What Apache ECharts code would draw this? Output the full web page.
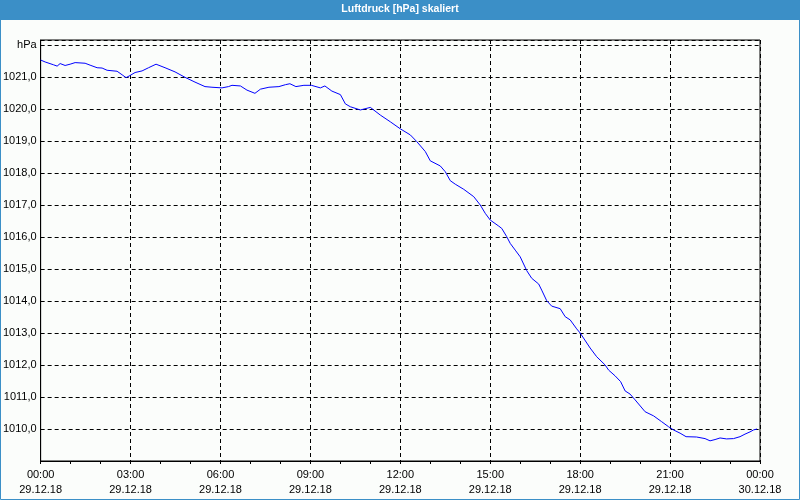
<!DOCTYPE html>
<html>
<head>
<meta charset="utf-8">
<script src="https://cdn.jsdelivr.net/npm/echarts@6/dist/echarts.min.js"></script>
<style>
html,body{margin:0;padding:0;background:#fbfdfb;}
#chart{width:800px;height:500px;}
</style>
</head>
<body>
<div id="chart"></div>
<script>
// Minutes after 29.12.18 00:00
var minutes = [0,9,26,33,39,49,59,69,89,99,113,123,133,153,163,171,177,189,203,216,231,249,269,289,309,329,343,363,376,383,400,413,429,440,457,477,490,499,511,527,542,560,569,583,
600,610,620,640,660,680,700,720,740,753,770,780,800,810,820,830,847,867,880,890,900,917,923,933,940,950,960,973,983,997,1003,1013,1023,1040,1050,1060,1073,1080,1100,1113,1130,1137,1150,1161,1170,1180,1190,1210,1227,1243,1257,1267,1280,1292,1313,1330,1340,1350,1360,1373,1387,1400,1410,1420,1427,1434];
// Luftdruck hPa
var pressure = [1021.53,1021.47,1021.38,1021.34,1021.42,1021.36,1021.40,1021.45,1021.43,1021.37,1021.29,1021.28,1021.21,1021.18,1021.07,1020.98,1021.03,1021.14,1021.19,1021.29,1021.40,1021.29,1021.16,1020.99,1020.84,1020.70,1020.68,1020.66,1020.70,1020.74,1020.72,1020.59,1020.49,1020.62,1020.68,1020.70,1020.76,1020.79,1020.70,1020.74,1020.74,1020.66,1020.72,1020.56,
1020.45,1020.16,1020.07,1019.97,1020.05,1019.81,1019.60,1019.38,1019.19,1018.98,1018.67,1018.38,1018.22,1018.04,1017.76,1017.65,1017.49,1017.26,1017.00,1016.74,1016.53,1016.34,1016.27,1016.01,1015.80,1015.59,1015.38,1014.95,1014.71,1014.53,1014.34,1014.01,1013.84,1013.76,1013.51,1013.41,1013.13,1013.00,1012.53,1012.26,1012.00,1011.84,1011.66,1011.48,1011.19,1011.09,1010.91,1010.54,1010.41,1010.23,1010.07,1009.97,1009.87,1009.76,1009.75,1009.70,1009.63,1009.67,1009.72,1009.69,1009.70,1009.76,1009.84,1009.91,1009.97,1010.00];
var xTickTimes = ['00:00','03:00','06:00','09:00','12:00','15:00','18:00','21:00','00:00'];
var xTickDates = ['29.12.18','29.12.18','29.12.18','29.12.18','29.12.18','29.12.18','29.12.18','29.12.18','30.12.18'];
var yUnit = 'hPa';
var title = 'Luftdruck [hPa] skaliert';

var FONT = "'Liberation Sans Narrow','Liberation Sans',sans-serif";
var chart = echarts.init(document.getElementById('chart'), null, {renderer:'canvas'});
var data = minutes.map(function(m,i){return [m, pressure[i]];});
chart.setOption({
  backgroundColor:'#fbfdfb',
  animation:false,
  title:{text:title,left:'center',top:3,padding:0,textStyle:{color:'#ffffff',fontFamily:FONT,fontSize:10.5,fontWeight:'bold',lineHeight:13}},
  graphic:[
    {type:'rect',z:-1,shape:{x:0,y:0,width:800,height:20},style:{fill:'#3b8fc7'}},
    {type:'rect',z:-1,shape:{x:0.5,y:0.5,width:799,height:499},style:{fill:null,stroke:'#3b8fc7',lineWidth:1}}
  ],
  grid:{left:40,right:40,top:40,bottom:39,show:true,borderColor:'#000',borderWidth:1,backgroundColor:'transparent'},
  xAxis:{type:'value',min:0,max:1440,interval:180,
    axisLine:{show:true,lineStyle:{color:'#000',width:1}},
    axisTick:{show:true,length:3,lineStyle:{color:'#000'}},
    minorTick:{show:true,splitNumber:3,length:3,lineStyle:{color:'#000'}},
    splitLine:{show:true,lineStyle:{color:'#000',type:[4,3],width:1}},
    axisLabel:{show:true,margin:6,color:'#000',fontFamily:FONT,fontSize:11,lineHeight:15,showMinLabel:true,showMaxLabel:true,
      formatter:function(v){var i=Math.round(v/180);return xTickTimes[i]+'\n'+xTickDates[i];}}
  },
  yAxis:{type:'value',min:1009,max:1022.15625,interval:1,
    axisLine:{show:true,lineStyle:{color:'#000',width:1}},
    axisTick:{show:false},
    splitLine:{show:true,lineStyle:{color:'#000',type:[4,3],width:1}},
    axisLabel:{margin:4,color:'#000',fontFamily:FONT,fontSize:11,
      formatter:function(v){
        if(Math.abs(v-Math.round(v))>1e-6) return '';
        if(v===1009) return '';
        if(v===1022) return yUnit;
        return v.toFixed(1).replace('.',',');
      }}
  },
  series:[{type:'line',data:data,showSymbol:false,symbol:'none',lineStyle:{color:'#0000ff',width:1},itemStyle:{color:'#0000ff'}}]
});
</script>
</body>
</html>
